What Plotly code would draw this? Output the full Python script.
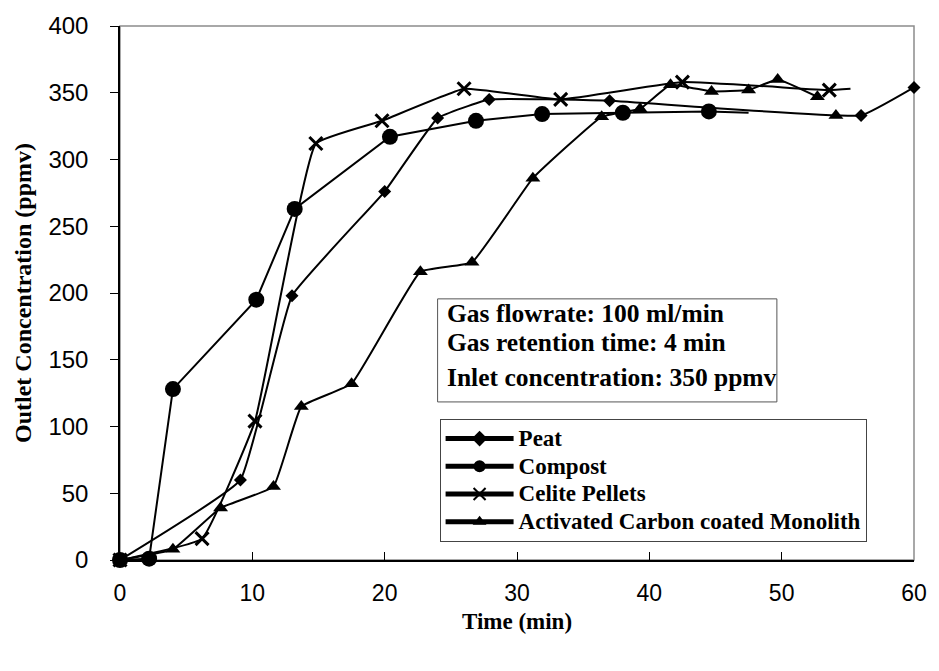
import plotly.graph_objects as go

# ---- data ----
peat_t = [0, 9.1, 13.0, 20.0, 24.0, 27.9, 37.0, 56.0, 60.0]
peat_v = [0, 60, 198, 276, 331, 345, 344, 333, 354]

compost_t = [0, 2.2, 4.0, 10.3, 13.2, 20.4, 26.9, 31.9, 38.0, 44.5, 47.5]
compost_v = [0, 1, 128, 195, 263, 317, 329, 334, 335, 336, 335]

celite_t = [0, 6.2, 10.2, 14.8, 19.8, 26.0, 33.3, 42.5, 53.6, 55.2]
celite_v = [0, 16, 104, 312, 329, 353, 345, 358, 352, 353]

carbon_t = [0, 4.0, 7.6, 11.6, 13.7, 17.5, 22.7, 26.6, 31.2, 36.4, 39.3, 41.6,
            44.7, 47.5, 49.7, 52.7, None, 54.1]
carbon_v = [0, 8, 39, 55, 115, 132, 216, 223, 286, 332, 338, 356,
            351, 352, 360, 347, None, 333]

series_names = ["Peat", "Compost", "Celite Pellets", "Activated Carbon coated Monolith"]
x_ticks = [0, 10, 20, 30, 40, 50, 60]
y_ticks = [0, 50, 100, 150, 200, 250, 300, 350, 400]
info_lines = ["Gas flowrate: 100 ml/min", "Gas retention time: 4 min",
              "Inlet concentration: 350 ppmv"]

SERIF = "Liberation Serif, Times New Roman, serif"
SANS = "Liberation Sans, Arial, sans-serif"
LEG_SIZE = 23


def leg_name(s):
    return "<span style='font-size:%dpx'><b>%s</b></span>" % (LEG_SIZE, s)


def sizes(n, s, hide_last=False):
    arr = [s] * n
    if hide_last:
        arr[-1] = 0
    return arr


fig = go.Figure()

fig.add_trace(go.Scatter(
    x=peat_t, y=peat_v, name=leg_name(series_names[0]), mode="lines+markers",
    line=dict(color="black", width=2, shape="spline", smoothing=0.3),
    marker=dict(symbol="diamond", size=10, color="black", opacity=1,
                line=dict(width=0, color="black")),
    cliponaxis=False))

fig.add_trace(go.Scatter(
    x=compost_t, y=compost_v, name=leg_name(series_names[1]), mode="lines+markers",
    line=dict(color="black", width=2),
    marker=dict(symbol="circle", size=sizes(len(compost_t), 16, True), color="black",
                opacity=1, line=dict(width=0, color="black")),
    cliponaxis=False))

fig.add_trace(go.Scatter(
    x=celite_t, y=celite_v, name=leg_name(series_names[2]), mode="lines+markers",
    line=dict(color="black", width=2, shape="spline", smoothing=0.3),
    marker=dict(symbol="x-thin", size=sizes(len(celite_t), 13, True), color="black",
                opacity=1, line=dict(color="black", width=3)),
    cliponaxis=False))

fig.add_trace(go.Scatter(
    x=carbon_t, y=carbon_v, name=leg_name(series_names[3]), mode="lines+markers",
    line=dict(color="black", width=2, shape="spline", smoothing=0.3),
    marker=dict(symbol="triangle-up", size=13, color="black", opacity=1,
                line=dict(width=0, color="black")),
    connectgaps=False, cliponaxis=False))

# gray frame on top/right
fig.add_shape(type="rect", xref="paper", yref="paper", x0=0, x1=1, y0=0, y1=1,
              line=dict(color="#8c8c8c", width=1.5), layer="below")

# info box
fig.add_shape(type="rect", xref="paper", yref="paper",
              x0=0.400, x1=0.8273, y0=0.296, y1=0.489,
              line=dict(color="#555555", width=1), fillcolor="white", layer="below")
for txt, yy in zip(info_lines, [0.462, 0.407, 0.341]):
    fig.add_annotation(text="<b>%s</b>" % txt, xref="paper", yref="paper", x=0.409, y=yy,
                       xanchor="left", yanchor="middle", showarrow=False,
                       font=dict(family=SERIF, size=25.5, color="black"))

fig.update_layout(
    width=939, height=671,
    margin=dict(l=120, r=14, t=16, b=111),
    plot_bgcolor="white", paper_bgcolor="white",
    showlegend=True,
    legend=dict(x=0.4025, y=0.2645, xanchor="left", yanchor="top",
                bordercolor="#444444", borderwidth=1, bgcolor="white",
                font=dict(family=SERIF, size=19, color="black"),
                itemsizing="constant", itemwidth=68, tracegroupgap=0),
)

fig.update_xaxes(
    range=[0, 60], tickvals=x_ticks, ticktext=[str(v) for v in x_ticks],
    ticks="inside", ticklen=8, tickcolor="black",
    showline=True, linecolor="black", linewidth=1.5,
    showgrid=False, zeroline=False,
    tickfont=dict(family=SANS, size=23, color="black"),
    ticklabelstandoff=12,
    title=dict(text="<b>Time (min)</b>", standoff=8,
               font=dict(family=SERIF, size=23, color="black")))

fig.update_yaxes(
    range=[0, 400], tickvals=y_ticks, ticktext=[str(v) for v in y_ticks],
    ticks="outside", ticklen=8, tickcolor="black",
    showline=True, linecolor="black", linewidth=1.5,
    showgrid=False, zeroline=False,
    tickfont=dict(family=SANS, size=24, color="black"),
    ticklabelstandoff=17,
    title=dict(text="<b>Outlet Concentration (ppmv)</b>", standoff=10,
               font=dict(family=SERIF, size=24, color="black")))

fig.write_html("out.html")
